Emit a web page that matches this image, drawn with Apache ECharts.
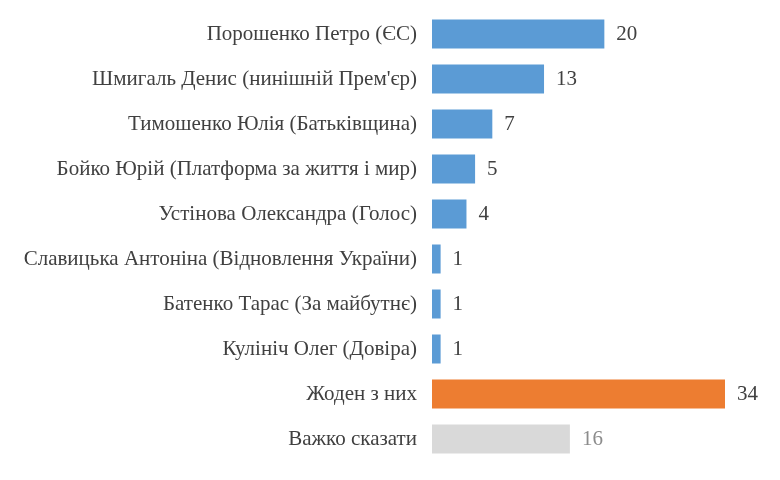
<!DOCTYPE html>
<html>
<head>
<meta charset="utf-8">
<script src="https://cdn.jsdelivr.net/npm/echarts@6/dist/echarts.min.js"></script>
<style>
  html, body { margin: 0; padding: 0; background: #fff; }
  #chart { width: 780px; height: 480px; }
</style>
</head>
<body>
<div id="chart"></div>
<script>
// top to bottom as in the picture
var categories = [
  'Порошенко Петро (ЄС)',
  'Шмигаль Денис (нинішній Прем\'єр)',
  'Тимошенко Юлія (Батьківщина)',
  'Бойко Юрій (Платформа за життя і мир)',
  'Устінова Олександра (Голос)',
  'Славицька Антоніна (Відновлення України)',
  'Батенко Тарас (За майбутнє)',
  'Кулініч Олег (Довіра)',
  'Жоден з них',
  'Важко сказати'
];
var values = [20, 13, 7, 5, 4, 1, 1, 1, 34, 16];
var barColors = ['#5B9BD5', '#5B9BD5', '#5B9BD5', '#5B9BD5', '#5B9BD5',
                 '#5B9BD5', '#5B9BD5', '#5B9BD5', '#ED7D31', '#D9D9D9'];
var labelColors = ['#404040', '#404040', '#404040', '#404040', '#404040',
                   '#404040', '#404040', '#404040', '#404040', '#8C8C8C'];

var font = 'Liberation Serif, Times New Roman, serif';

var chart = echarts.init(document.getElementById('chart'));
chart.setOption({
  animation: false,
  textStyle: { fontFamily: font },
  grid: { left: 432, right: 55, top: 11.5, bottom: 18.5 },
  xAxis: {
    type: 'value',
    min: 0,
    max: 34,
    show: false
  },
  yAxis: {
    type: 'category',
    inverse: true,
    data: categories,
    axisLine: { show: false },
    axisTick: { show: false },
    axisLabel: {
      margin: 15,
      color: '#404040',
      fontFamily: font,
      fontSize: 21
    }
  },
  series: [{
    type: 'bar',
    barWidth: 29,
    data: values.map(function (v, i) {
      return {
        value: v,
        itemStyle: { color: barColors[i] },
        label: { color: labelColors[i] }
      };
    }),
    label: {
      show: true,
      position: 'right',
      distance: 12,
      fontFamily: font,
      fontSize: 21
    }
  }]
});
</script>
</body>
</html>
